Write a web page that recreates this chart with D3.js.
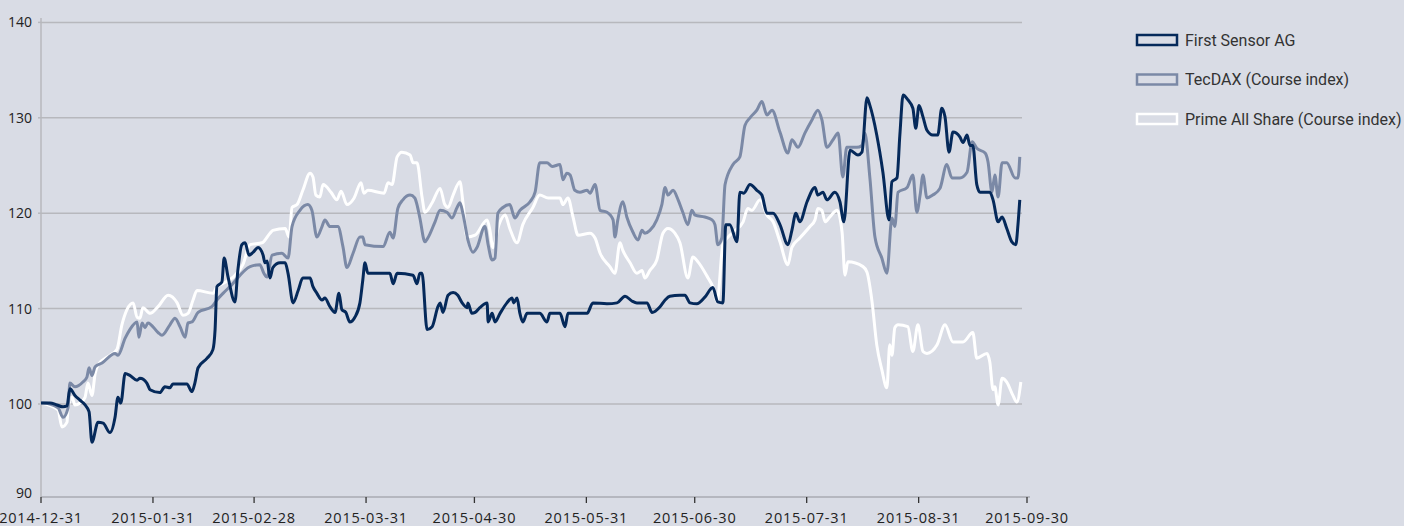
<!DOCTYPE html>
<html>
<head>
<meta charset="utf-8">
<script src="https://cdn.jsdelivr.net/npm/d3@7"></script>
<style>
  html, body { margin: 0; padding: 0; background: #d9dce5; }
  svg { display: block; }
  .tick-label { font-family: 'Open Sans', sans-serif; font-size: 14px; fill: #222; }
  .x-label { letter-spacing: 0.8px; font-size: 14.5px; }
  .legend-label { font-family: Roboto, sans-serif; font-size: 16px; fill: #333; }
</style>
</head>
<body>
<svg width="1404" height="526"></svg>
<script>
// day offsets from 2014-12-31 and index values
const startDate = '2014-12-31';
const endDate = '2015-09-30';
const tickDates = ['2014-12-31', '2015-01-31', '2015-02-28', '2015-03-31', '2015-04-30',
  '2015-05-31', '2015-06-30', '2015-07-31', '2015-08-31', '2015-09-30'];
const yTicks = [90, 100, 110, 120, 130, 140];
const seriesNames = ['First Sensor AG', 'TecDAX (Course index)', 'Prime All Share (Course index)'];

const firstSensorDays = [0, 2.5, 4.4, 6.1, 7.2, 8.0, 9.4, 10.8, 12.2, 13.3, 14.1, 15.8, 17.2, 19.1, 20.5, 21.3,
  22.1, 23.3, 24.6, 26.6, 27.4, 29.3, 30.2, 32.9, 34.3, 35.7, 36.5, 40.4, 41.8, 42.6, 43.5, 46.0, 47.6, 48.2,
  48.7, 50.1, 50.7, 51.8, 53.7, 54.5, 55.6, 56.5, 57.6, 58.7, 60.1, 61.5, 62.0, 62.6, 63.4, 64.2, 66.2, 67.6,
  68.4, 69.8, 71.2, 72.5, 74.5, 75.3, 76.4, 77.8, 78.6, 80.0, 81.4, 82.5, 83.3, 84.4, 85.5, 86.9, 88.3, 89.1,
  89.7, 90.5, 96.6, 97.5, 98.6, 103.0, 104.1, 104.9, 105.5, 106.9, 108.3, 109.9, 110.5, 111.3, 112.7, 114.1,
  115.4, 116.6, 118.0, 118.2, 119.3, 120.2, 121.5, 123.5, 123.8, 124.9, 125.7, 127.1, 129.0, 130.4, 130.9,
  131.8, 132.6, 133.4, 134.6, 138.1, 140.1, 140.9, 143.7, 145.1, 145.9, 151.2, 152.8, 156.7, 159.5, 161.7,
  163.6, 165.0, 167.8, 169.2, 171.4, 172.8, 174.1, 176.9, 178.3, 179.7, 181.6, 183.8, 186.0, 187.4, 188.8,
  189.6, 190.7, 192.7, 193.5, 194.6, 196.3, 198.2, 199.6, 201.0, 202.7, 204.6, 206.8, 207.9, 209.0, 210.1,
  212.1, 214.3, 215.1, 216.5, 217.6, 219.8, 221.2, 222.3, 224.0, 226.2, 227.3, 228.7, 229.5, 231.4, 233.1,
  234.8, 235.6, 237.0, 237.8, 238.7, 240.0, 241.4, 242.2, 243.1, 244.2, 245.3, 246.9, 248.3, 249.4, 250.3,
  251.4, 252.5, 254.4, 255.3, 256.4, 257.2, 258.0, 259.1, 260.0, 262.7, 263.6, 265.0, 266.1, 267.4, 268.8,
  269.9, 270.5, 271.0];
const firstSensorValues = [100.1, 100.1, 99.9, 99.7, 99.8, 101.6, 100.9, 100.4, 99.9, 99.2, 96.0, 98.1, 98.0,
  97.0, 98.6, 100.7, 100.1, 103.2, 103.0, 102.5, 102.7, 102.2, 101.5, 101.2, 101.8, 101.7, 102.1, 102.1, 101.3,
  102.2, 103.8, 104.8, 105.7, 107.8, 112.3, 112.8, 115.3, 113.3, 110.7, 114.0, 116.7, 116.9, 115.6, 115.9,
  116.4, 115.6, 114.8, 115.0, 113.2, 114.3, 114.8, 114.8, 113.7, 110.6, 111.9, 113.2, 113.2, 112.3, 111.6,
  110.9, 111.1, 110.2, 109.6, 111.6, 109.9, 109.6, 108.6, 109.1, 110.6, 113.0, 114.8, 113.7, 113.7, 112.6,
  113.7, 113.5, 112.6, 113.7, 113.7, 107.8, 108.1, 110.2, 110.6, 109.6, 111.4, 111.7, 111.4, 110.6, 110.1,
  110.6, 109.5, 109.6, 110.1, 110.6, 108.6, 109.5, 108.6, 109.5, 110.6, 111.1, 110.6, 111.1, 109.5, 108.6,
  109.5, 109.5, 108.6, 109.5, 109.5, 108.1, 109.5, 109.5, 110.6, 110.5, 110.6, 111.3, 110.8, 110.6, 110.6,
  109.6, 110.2, 110.9, 111.3, 111.4, 111.4, 110.6, 110.5, 111.2, 112.2, 110.7, 110.6, 118.8, 118.8, 117.0,
  122.2, 122.1, 123.0, 122.4, 121.9, 120.0, 120.0, 118.8, 116.7, 118.2, 120.0, 119.1, 121.2, 122.7, 121.9,
  122.2, 121.4, 122.2, 121.2, 119.1, 126.6, 126.1, 126.4, 132.1, 131.3, 128.2, 124.3, 119.3, 123.3, 123.7,
  128.2, 132.4, 131.9, 131.0, 128.9, 131.3, 130.1, 128.7, 128.2, 128.2, 131.0, 130.1, 126.4, 128.5, 128.0,
  127.4, 128.2, 127.1, 127.1, 123.0, 122.2, 122.2, 121.4, 119.1, 119.6, 118.4, 117.0, 116.7, 118.8, 121.4];

const tecdaxDays = [0, 0.6, 4.7, 6.1, 7.5, 8.0, 9.4, 11.6, 12.7, 13.3, 14.1, 15.0, 16.9, 20.5, 21.3, 23.3, 24.6,
  26.6, 27.1, 28.0, 28.8, 29.6, 32.4, 33.5, 35.7, 37.1, 38.5, 39.9, 40.7, 41.8, 43.5, 47.3, 48.7, 50.4, 52.3,
  57.9, 60.6, 61.7, 62.6, 64.0, 66.7, 68.4, 69.5, 71.7, 73.9, 75.0, 76.4, 77.8, 78.6, 80.0, 82.2, 83.6, 84.7,
  86.4, 88.3, 89.1, 89.7, 94.7, 96.6, 97.5, 98.8, 100.2, 102.2, 103.5, 104.1, 104.9, 106.3, 107.1, 109.1,
  110.5, 112.4, 113.8, 115.2, 116.0, 116.8, 118.2, 119.6, 120.7, 122.9, 123.8, 124.9, 125.7, 126.5, 127.9,
  129.8, 131.2, 132.6, 135.4, 136.8, 138.1, 140.1, 141.5, 143.7, 144.5, 145.6, 146.5, 147.8, 149.2, 151.2,
  152.0, 153.4, 154.8, 156.7, 158.4, 158.9, 159.7, 161.1, 162.2, 163.9, 165.3, 166.4, 167.2, 168.6, 170.5,
  171.9, 172.8, 173.6, 175.0, 176.4, 177.7, 179.1, 180.2, 181.1, 183.8, 185.8, 186.6, 187.4, 188.5, 189.4,
  191.6, 193.5, 194.9, 196.3, 198.2, 199.6, 201.0, 202.4, 204.6, 206.8, 207.9, 209.6, 211.5, 213.5, 215.1,
  216.2, 217.6, 219.3, 220.7, 222.0, 223.1, 225.9, 227.3, 228.1, 229.5, 230.9, 232.8, 234.2, 235.6, 236.4,
  237.3, 239.8, 241.4, 242.5, 243.4, 244.2, 245.3, 246.9, 248.9, 250.8, 252.2, 254.4, 256.4, 257.8, 259.1,
  261.4, 262.2, 263.3, 264.1, 265.0, 266.1, 267.4, 269.7, 270.5, 271.0];
const tecdaxValues = [100.1, 100.1, 99.6, 98.6, 99.6, 102.2, 101.8, 102.3, 102.8, 103.8, 103.0, 103.9, 104.3,
  105.3, 105.1, 106.9, 107.8, 108.6, 107.0, 108.5, 108.0, 108.5, 107.5, 107.2, 108.3, 109.0, 108.1, 107.0,
  108.5, 108.6, 109.6, 110.2, 110.9, 111.6, 112.3, 114.4, 114.6, 113.7, 113.3, 115.6, 115.8, 115.3, 118.6,
  120.3, 120.9, 120.3, 117.5, 118.6, 119.3, 118.6, 118.6, 116.5, 114.3, 115.8, 117.5, 117.5, 116.7, 116.5,
  118.0, 117.4, 120.5, 121.4, 121.9, 121.6, 120.9, 119.5, 117.0, 117.4, 119.1, 120.3, 120.1, 119.5, 120.6,
  121.1, 120.0, 117.2, 115.9, 116.4, 118.6, 116.7, 115.1, 115.3, 120.0, 120.6, 120.9, 119.5, 120.3, 121.2,
  122.2, 125.3, 125.3, 124.9, 125.1, 123.5, 124.2, 124.0, 122.4, 122.2, 122.4, 122.1, 123.0, 120.3, 120.1,
  119.3, 117.5, 119.3, 121.2, 119.6, 118.0, 117.2, 118.2, 117.9, 118.2, 119.3, 120.9, 122.7, 121.9, 122.4,
  121.4, 120.1, 118.8, 120.3, 119.8, 119.6, 119.3, 118.8, 116.7, 117.4, 123.0, 125.1, 125.9, 129.2, 130.0,
  130.8, 131.7, 130.3, 130.8, 128.5, 126.3, 127.7, 126.9, 128.4, 129.8, 130.8, 129.8, 126.9, 127.7, 128.4,
  123.8, 126.9, 126.9, 127.1, 128.4, 123.7, 117.5, 115.3, 113.7, 119.5, 118.6, 122.2, 122.7, 124.0, 120.1,
  121.9, 124.0, 121.6, 121.9, 122.6, 125.1, 123.7, 123.7, 124.3, 127.5, 126.8, 126.3, 125.4, 122.2, 124.0,
  121.7, 125.3, 125.3, 123.7, 123.7, 125.9];

const primeDays = [0, 4.7, 5.8, 7.2, 7.5, 8.6, 9.4, 10.8, 12.2, 13.0, 14.1, 15.0, 15.8, 19.1, 21.0, 22.4, 23.8,
  25.5, 26.6, 27.4, 28.2, 30.2, 32.4, 35.2, 37.7, 39.3, 40.7, 42.1, 43.2, 47.6, 48.7, 49.6, 53.2, 55.9, 57.9,
  61.2, 63.4, 64.2, 67.6, 68.7, 69.5, 70.9, 72.5, 74.5, 75.3, 76.1, 77.2, 78.1, 80.3, 81.9, 83.1, 84.7, 86.7,
  88.6, 89.4, 90.5, 95.0, 96.1, 97.2, 98.6, 99.9, 102.2, 103.0, 104.1, 105.5, 106.3, 108.3, 110.5, 111.8,
  112.7, 114.1, 116.0, 116.8, 117.9, 120.2, 123.5, 124.3, 125.1, 126.8, 128.5, 129.8, 131.8, 133.4, 136.2,
  138.1, 140.4, 143.7, 144.5, 145.9, 147.3, 148.7, 152.0, 153.4, 154.8, 157.5, 158.9, 160.3, 161.1, 163.1,
  165.0, 166.4, 167.2, 168.6, 170.5, 172.2, 173.6, 175.5, 176.9, 179.1, 180.5, 181.9, 184.7, 186.0, 187.2,
  188.8, 191.6, 194.4, 195.7, 196.8, 199.1, 201.0, 202.7, 204.6, 206.8, 207.9, 210.1, 212.9, 214.3, 215.1,
  216.2, 217.1, 218.4, 220.4, 221.8, 222.6, 223.4, 227.6, 228.7, 230.1, 231.4, 232.8, 234.2, 235.0, 235.6,
  236.4, 237.3, 240.0, 241.4, 242.8, 244.2, 245.3, 248.1, 250.3, 252.5, 255.3, 258.0, 259.1, 261.9, 262.7,
  263.6, 264.1, 265.0, 266.1, 267.4, 269.1, 270.2, 271.3];
const primeValues = [100.1, 99.4, 97.6, 98.1, 99.6, 100.7, 99.9, 100.1, 100.7, 102.2, 100.9, 103.2, 104.1,
  105.1, 105.7, 108.3, 109.9, 110.6, 109.1, 109.0, 110.1, 109.5, 110.2, 111.4, 110.6, 109.3, 109.5, 110.9,
  111.9, 111.6, 112.3, 112.5, 113.3, 114.6, 116.7, 116.9, 117.9, 118.2, 118.4, 117.5, 120.6, 120.9, 122.4,
  124.2, 123.8, 121.9, 121.7, 123.0, 122.2, 121.4, 122.3, 120.9, 121.6, 123.2, 122.1, 122.4, 122.1, 123.2,
  123.0, 125.9, 126.4, 126.1, 125.3, 125.3, 121.7, 120.1, 121.1, 122.6, 120.9, 120.6, 121.9, 123.3, 121.2,
  117.5, 117.7, 119.3, 118.2, 116.4, 118.8, 119.8, 118.4, 116.9, 118.8, 120.6, 121.9, 121.6, 121.6, 120.9,
  121.6, 119.6, 117.7, 117.9, 117.4, 115.8, 114.4, 113.7, 116.9, 116.1, 114.8, 113.7, 114.0, 113.2, 114.0,
  115.1, 117.9, 118.4, 117.9, 116.9, 113.2, 115.4, 114.9, 113.2, 112.3, 110.7, 116.7, 118.0, 119.1, 120.5,
  120.3, 121.4, 119.8, 119.1, 117.0, 114.6, 116.4, 117.4, 118.6, 119.3, 120.5, 120.3, 119.1, 119.6, 120.3,
  118.0, 113.5, 114.9, 114.4, 113.8, 110.7, 106.2, 103.6, 101.7, 106.2, 105.1, 108.0, 108.3, 108.1, 105.5,
  108.3, 105.5, 105.3, 106.2, 108.3, 106.5, 106.5, 107.5, 104.8, 105.3, 104.4, 101.5, 101.8, 99.9, 102.7,
  102.3, 100.9, 100.2, 102.3];

const colors = ['#05295a', '#7b89a6', '#ffffff'];
const bg = '#d9dce5';
const gridColor = '#b7b8bd';

const svg = d3.select('svg');
const parse = d3.utcParse('%Y-%m-%d');
const start = parse(startDate);
const dayMs = 864e5;

const x = d3.scaleUtc().domain([start, parse(endDate)]).range([41, 1027]);
const y = d3.scaleLinear().domain([90, 140]).range([499.4, 22.4]);
const axisY = 497;

function toPoints(days, values) {
  return days.map(function (d, i) {
    return { date: new Date(start.getTime() + d * dayMs), value: values[i] };
  });
}

const series = [
  toPoints(firstSensorDays, firstSensorValues),
  toPoints(tecdaxDays, tecdaxValues),
  toPoints(primeDays, primeValues)
];

// grid lines
svg.append('g')
  .selectAll('line')
  .data(yTicks.filter(function (d) { return d > 90; }))
  .enter()
  .append('line')
  .attr('x1', 41)
  .attr('x2', 1022)
  .attr('y1', function (d) { return y(d); })
  .attr('y2', function (d) { return y(d); })
  .attr('stroke', gridColor)
  .attr('stroke-width', 1.5);

// y axis
const yAxis = svg.append('g').attr('transform', 'translate(41,0)');
yAxis.append('line')
  .attr('x1', 0).attr('x2', 0)
  .attr('y1', 18).attr('y2', axisY)
  .attr('stroke', gridColor).attr('stroke-width', 1.5);
yAxis.selectAll('.yt')
  .data(yTicks.filter(function (d) { return d > 90; }))
  .enter()
  .append('line')
  .attr('x1', -3).attr('x2', 0)
  .attr('y1', function (d) { return y(d); })
  .attr('y2', function (d) { return y(d); })
  .attr('stroke', gridColor).attr('stroke-width', 1.5);
yAxis.selectAll('text')
  .data(yTicks)
  .enter()
  .append('text')
  .attr('class', 'tick-label')
  .attr('x', -9)
  .attr('y', function (d) { return d === 90 ? axisY - 4 : y(d); })
  .attr('dy', '0.35em')
  .attr('text-anchor', 'end')
  .text(function (d) { return d; });

// x axis
const xAxis = svg.append('g').attr('transform', 'translate(0,' + axisY + ')');
xAxis.append('line')
  .attr('x1', 41).attr('x2', 1030)
  .attr('y1', 0).attr('y2', 0)
  .attr('stroke', '#a9abb2').attr('stroke-width', 1.5);
xAxis.selectAll('.xt')
  .data(tickDates)
  .enter()
  .append('line')
  .attr('x1', function (d) { return x(parse(d)); })
  .attr('x2', function (d) { return x(parse(d)); })
  .attr('y1', 0).attr('y2', 6)
  .attr('stroke', '#333').attr('stroke-width', 1.3);
xAxis.selectAll('text')
  .data(tickDates)
  .enter()
  .append('text')
  .attr('class', 'tick-label x-label')
  .attr('x', function (d) { return x(parse(d)); })
  .attr('y', 26)
  .attr('text-anchor', 'middle')
  .text(function (d) { return d; });

// lines, drawn back to front
const line = d3.line()
  .x(function (d) { return x(d.date); })
  .y(function (d) { return y(d.value); })
  .curve(d3.curveMonotoneX);

[2, 1, 0].forEach(function (i) {
  svg.append('path')
    .datum(series[i])
    .attr('fill', 'none')
    .attr('stroke', colors[i])
    .attr('stroke-width', 3)
    .attr('stroke-linejoin', 'round')
    .attr('d', line);
});

// legend
const legend = svg.append('g').attr('transform', 'translate(1137,40)');
const legendItem = legend.selectAll('g')
  .data(seriesNames)
  .enter()
  .append('g')
  .attr('transform', function (d, i) { return 'translate(0,' + i * 39.5 + ')'; });
legendItem.append('rect')
  .attr('x', 0).attr('y', -5)
  .attr('width', 40).attr('height', 10)
  .attr('fill', bg)
  .attr('stroke', function (d, i) { return colors[i]; })
  .attr('stroke-width', 2.5);
legendItem.append('text')
  .attr('class', 'legend-label')
  .attr('x', 48)
  .attr('y', 0)
  .attr('dy', '0.35em')
  .text(function (d) { return d; });
</script>
</body>
</html>
